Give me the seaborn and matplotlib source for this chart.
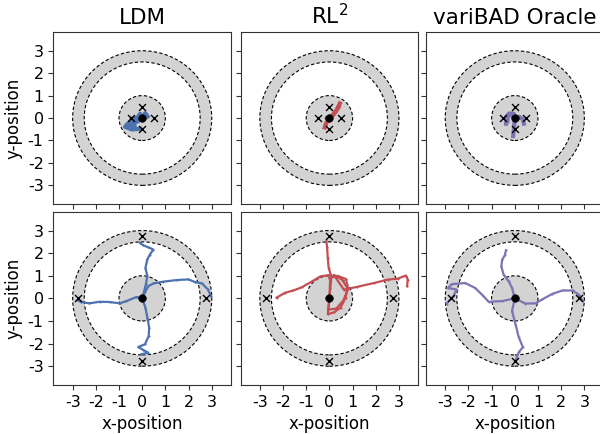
import numpy as np
import pandas as pd
import matplotlib
matplotlib.use("Agg")
import matplotlib.pyplot as plt
from matplotlib.patches import Circle, Wedge
import seaborn as sns

# ---------------- data ----------------
methods = ["LDM", "RL$^2$", "variBAD Oracle"]
colors = ["#4c72b0", "#c44e52", "#8172b3"]
ticks = [-3, -2, -1, 0, 1, 2, 3]

# goal positions (crosses)
goals_inner_x = [0.0, 0.5, 0.0, -0.5]
goals_inner_y = [0.5, 0.0, -0.5, 0.0]
goals_outer_x = [0.0, 2.75, 0.0, -2.75]
goals_outer_y = [2.75, 0.0, -2.75, 0.0]

# region radii
inner_radius = 1.0
ring_inner = 2.5
ring_outer = 3.0

# trajectories (each list = episodes; each episode a list of points)
ldm_top_x = [[0, -0.09, -0.26, -0.59, -0.74, -0.45, -0.09],
             [0, 0.13, 0.23],
             [0, -0.25, -0.45, -0.55, -0.35],
             [0, -0.2, -0.5, -0.65, -0.3]]
ldm_top_y = [[0, 0.19, -0.07, -0.22, -0.39, -0.51, -0.48],
             [0, 0.22, 0.07],
             [0, 0.0, -0.03, -0.25, -0.35],
             [0, -0.15, -0.3, -0.3, -0.45]]
rl2_top_x = [[0, 0.19, 0.30, 0.36, 0.45],
             [0, -0.07, -0.15, -0.20],
             [0, -0.12, -0.05],
             [0, 0.15, 0.28, 0.40]]
rl2_top_y = [[0, 0.19, 0.33, 0.46, 0.65],
             [0, -0.12, -0.25, -0.42],
             [0, 0.0, -0.1],
             [0, 0.12, 0.30, 0.50]]
vb_top_x = [[0, -0.05, -0.25, -0.38, -0.38],
            [0, 0.2, 0.35, 0.39],
            [0, -0.03, -0.07],
            [0, -0.15, -0.3, -0.32]]
vb_top_y = [[0, 0.2, 0.2, 0.05, -0.25],
            [0, 0.05, -0.05, -0.25],
            [0, -0.4, -0.8],
            [0, 0.15, 0.1, -0.15]]

ldm_bot_x = [[0, 0.16, 0.22, 0.14, 0.22, 0.33, 0.48, 0.26, 0.04, -0.10],
             [0, 0.26, 0.48, 0.91, 1.49, 1.99, 2.28, 2.58, 2.83, 2.97],
             [0, -0.25, -0.68, -0.97, -1.41, -1.84, -2.28, -2.64, -2.78],
             [0, 0.14, 0.22, 0.30, 0.28, 0.12, -0.17, 0.04, 0.26, -0.03]]
ldm_bot_y = [[0, 0.62, 0.99, 1.35, 1.72, 1.94, 2.16, 2.26, 2.35, 2.46],
             [0, 0.54, 0.66, 0.74, 0.81, 0.84, 0.72, 0.66, 0.40, 0.10],
             [0, 0.06, -0.12, -0.22, -0.16, -0.15, -0.22, -0.16, -0.09],
             [0, -0.41, -0.85, -1.29, -1.66, -2.03, -2.15, -2.28, -2.40, -2.47]]
rl2_bot_x = [[0, 0.04, 0.09, -0.03, -0.07, -0.10, -0.13],
             [0, 0.04, -0.39, -0.75, -1.19, -1.55, -1.91, -2.28],
             [0, -0.07, 0.19, 0.48, 0.70, 0.77, 0.55, 0.19, 0.62, 1.20, 1.93, 2.51, 2.94, 3.30, 3.38, 3.35],
             [0, -0.05, 0.3, 0.6, 0.8, 0.72, 0.35, 0.0]]
rl2_bot_y = [[0, 0.46, 0.97, 1.33, 1.77, 2.28, 2.52],
             [0, 1.04, 0.97, 0.75, 0.49, 0.35, 0.25, 0.03],
             [0, -0.70, -0.62, -0.41, 0.03, 0.46, 0.83, 1.04, 0.39, 0.51, 0.68, 0.83, 0.87, 1.01, 0.83, 0.54],
             [0, -0.5, -0.45, -0.1, 0.4, 0.85, 1.0, 0.9]]
vb_bot_x = [[0, -0.12, -0.26, -0.48, -0.58, -0.55, -0.43, -0.38],
            [0, 0.46, 0.90, 1.19, 1.62, 2.06, 2.49, 2.75, 2.93, 2.78],
            [0, -0.55, -1.13, -1.35, -1.71, -2.14, -2.72, -2.87, -2.51, -2.65, -2.94],
            [0, -0.12, 0.03, 0.17, 0.35, 0.17, 0.03]]
vb_bot_y = [[0, 0.46, 0.75, 1.04, 1.41, 1.70, 1.91, 2.13],
            [0, -0.23, -0.22, -0.04, 0.20, 0.35, 0.35, 0.17, -0.12, 0.10],
            [0, -0.12, -0.15, 0.10, 0.46, 0.68, 0.63, 0.46, 0.39, 0.10, -0.23],
            [0, -0.56, -1.14, -1.72, -2.16, -2.38, -2.75]]

top_trajs = [(ldm_top_x, ldm_top_y), (rl2_top_x, rl2_top_y), (vb_top_x, vb_top_y)]
bot_trajs = [(ldm_bot_x, ldm_bot_y), (rl2_bot_x, rl2_bot_y), (vb_bot_x, vb_bot_y)]

# ---------------- figure ----------------
plt.rcParams["font.family"] = ["DejaVu Sans"]
fig = plt.figure(figsize=(6.0, 4.34), dpi=100)

lefts = [0.089, 0.401, 0.710]
width = 0.296
rows = [(0.530, 0.396), (0.113, 0.399)]
lim = 3.83


def draw_env(ax, gx, gy):
    ax.add_patch(Wedge((0, 0), ring_outer, 0, 360, width=ring_outer - ring_inner,
                       facecolor="#d3d3d3", edgecolor="none", zorder=1))
    for r in (ring_outer, ring_inner, inner_radius):
        ax.add_patch(Circle((0, 0), r, facecolor="none", edgecolor="black",
                            linestyle=(0, (3, 2)), linewidth=0.8, zorder=2))
    ax.add_patch(Circle((0, 0), inner_radius, facecolor="#d3d3d3",
                        edgecolor="none", zorder=1))
    sns.scatterplot(x=gx, y=gy, marker="x", color="black", s=25,
                    linewidth=1.0, ax=ax, zorder=5, legend=False)
    sns.scatterplot(x=[0.0], y=[0.0], color="black", s=30, edgecolor="black",
                    ax=ax, zorder=6, legend=False)


def traj_frame(tx, ty):
    frames = []
    for k, (ex, ey) in enumerate(zip(tx, ty)):
        frames.append(pd.DataFrame({"x": ex, "y": ey, "ep": k}))
    return pd.concat(frames, ignore_index=True)


for row_i, (bottom, height) in enumerate(rows):
    for col_i in range(3):
        ax = fig.add_axes([lefts[col_i], bottom, width, height])
        if row_i == 0:
            draw_env(ax, goals_inner_x, goals_inner_y)
            tx, ty = top_trajs[col_i]
            lw = 3.0
        else:
            draw_env(ax, goals_outer_x, goals_outer_y)
            tx, ty = bot_trajs[col_i]
            lw = 1.6
        df = traj_frame(tx, ty)
        sns.lineplot(data=df, x="x", y="y", units="ep", sort=False,
                     estimator=None, color=colors[col_i], linewidth=lw,
                     marker=".", markersize=3, markeredgewidth=0,
                     ax=ax, zorder=4, legend=False)
        ax.set_xlim(-lim, lim)
        ax.set_ylim(-lim, lim)
        ax.set_xticks(ticks)
        ax.set_yticks(ticks)
        ax.set_xlabel("")
        ax.set_ylabel("")
        for sp in ax.spines.values():
            sp.set_color("#333333")
        ax.tick_params(colors="#333333", labelcolor="black", labelsize=11.5)
        if row_i == 0:
            ax.set_title(methods[col_i], fontsize=15.5)
            ax.set_xticklabels([])
        else:
            ax.set_xticklabels([str(t) for t in ticks])
            ax.set_xlabel("x-position", fontsize=12)
        if col_i == 0:
            ax.set_yticklabels([str(t) for t in ticks])
            ax.set_ylabel("y-position", fontsize=12)
        else:
            ax.set_yticklabels([])

fig.savefig("out.png", dpi=100)
